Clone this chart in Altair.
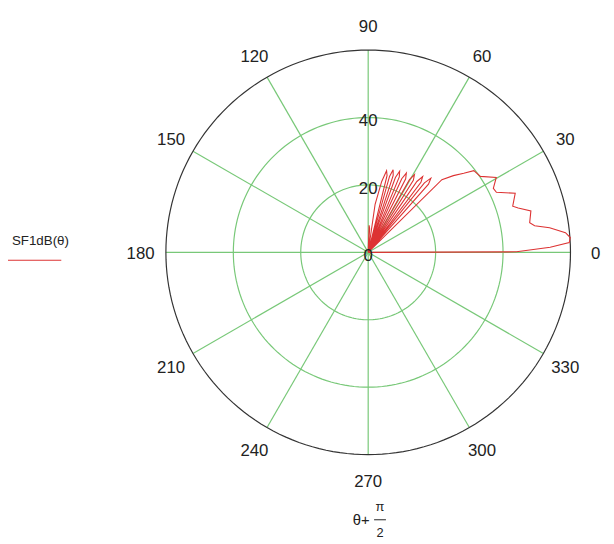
import math
import altair as alt
import pandas as pd

# ---- data (plotted angle θ+π/2 in degrees, SF1dB(θ) in dB)
ANGLE_DEG = [0, 0.2, 1.6, 2.8, 4.2, 5.7, 7.7, 9.1, 10.4, 14.3, 16.5, 17.7, 21.9, 25.1,
             27.1, 30.3, 34.1, 37.7, 39.6, 42.0, 44.6, 45.4,
             48.5, 49.8, 51.0, 51.6,
             53.0, 54.3, 55.5, 56.2,
             57.9, 59.2, 60.4, 61.1,
             63.0, 64.3, 65.5, 66.1,
             67.6, 68.8, 70.0, 70.6,
             72.0, 73.2, 74.3, 74.9,
             76.2, 77.3, 79.2, 81.8, 83.8,
             86.5, 88.0, 90.0]
SF1DB = [0, 44, 54, 59.7, 60.1, 58.8, 54.3, 50, 48.7, 49.8, 46.4, 45, 47, 42,
         41.7, 44, 40.2, 39.6, 36.8, 34, 30.7, 0,
         27.0, 28.8, 26.5, 0,
         26.0, 27.7, 25.5, 0,
         25.2, 26.8, 24.8, 0,
         24.5, 26.1, 24.0, 0,
         24.2, 25.8, 23.6, 0,
         24.0, 25.6, 23.4, 0,
         23.5, 24.8, 21.4, 14.4, 0,
         7, 8, 0]

RINGS = [20, 40]
R_MAX = 60
SPOKES = [0, 30, 60, 90, 120, 150, 180, 210, 240, 270, 300, 330]
ANGLE_LABELS = ["0", "30", "60", "90", "120", "150", "180", "210", "240", "270", "300", "330"]
RADIAL_TICKS = [0, 20, 40]
RADIAL_LABELS = ["0", "20", "40"]
LEGEND_LABEL = "SF1dB(θ)"

# ---- layout (pixels)
W, H = 606, 540
CX, CY = 365, 244
R_PX = 205
K = R_PX / R_MAX
LABEL_R = 67.5
FONT = "Liberation Sans"
GREEN = "#78c878"
RED = "#dd3333"
TXT = "#222222"

xs = alt.Scale(domain=[-CX / K, (W - CX) / K], nice=False, zero=False)
ys = alt.Scale(domain=[-(H - CY) / K, CY / K], nice=False, zero=False)


def X(f):
    return alt.X(f, type="quantitative", scale=xs, axis=None)


def Y(f):
    return alt.Y(f, type="quantitative", scale=ys, axis=None)


# rings (sampled circle geometry)
ring_rows = []
for r in RINGS + [R_MAX]:
    for d in range(0, 361, 2):
        ring_rows.append({"r": r, "deg": d})
ring_df = pd.DataFrame(ring_rows)

ring_base = alt.Chart(ring_df).transform_calculate(
    x="datum.r * cos(datum.deg * PI / 180)",
    y="datum.r * sin(datum.deg * PI / 180)",
)
green_rings = ring_base.transform_filter(f"datum.r < {R_MAX}").mark_line(
    color=GREEN, strokeWidth=1.2
).encode(x=X("x:Q"), y=Y("y:Q"), detail="r:N", order="deg:Q")
outer_ring = ring_base.transform_filter(f"datum.r == {R_MAX}").mark_line(
    color="#333333", strokeWidth=1.2
).encode(x=X("x:Q"), y=Y("y:Q"), order="deg:Q")

# spokes
spoke_df = pd.DataFrame({"a": SPOKES})
spokes = alt.Chart(spoke_df).transform_calculate(
    x0="0", y0="0",
    x1=f"{R_MAX} * cos(datum.a * PI / 180)",
    y1=f"{R_MAX} * sin(datum.a * PI / 180)",
).mark_rule(color=GREEN, strokeWidth=1.2).encode(
    x=X("x0:Q"), y=Y("y0:Q"), x2="x1:Q", y2="y1:Q"
)

# curve
curve_df = pd.DataFrame({"i": range(len(ANGLE_DEG)), "a": ANGLE_DEG, "r": SF1DB})
curve = alt.Chart(curve_df).transform_calculate(
    x="datum.r * cos(datum.a * PI / 180)",
    y="datum.r * sin(datum.a * PI / 180)",
).mark_line(color=RED, strokeWidth=1.1).encode(
    x=X("x:Q"), y=Y("y:Q"), order="i:Q"
)

# angle labels
alab_df = pd.DataFrame({"a": SPOKES, "t": ANGLE_LABELS})
angle_labels = alt.Chart(alab_df).transform_calculate(
    x=f"{LABEL_R} * cos(datum.a * PI / 180)",
    y=f"{LABEL_R} * sin(datum.a * PI / 180)",
).mark_text(font=FONT, fontSize=17, color=TXT, align="center", baseline="middle", dy=2).encode(
    x=X("x:Q"), y=Y("y:Q"), text="t:N"
)

# radial labels
rlab_df = pd.DataFrame({"r": RADIAL_TICKS, "t": RADIAL_LABELS})
radial_labels = alt.Chart(rlab_df).transform_calculate(x="0").mark_text(
    font=FONT, fontSize=17, color=TXT, align="center", baseline="middle", dy=4
).encode(x=X("x:Q"), y=Y("r:Q"), text="t:N")

# legend
legend_text = alt.Chart(pd.DataFrame({"t": [LEGEND_LABEL]})).mark_text(
    font=FONT, fontSize=13.5, color=TXT, align="left", baseline="middle"
).encode(x=alt.value(4), y=alt.value(233), text="t:N")
legend_line = alt.Chart(pd.DataFrame({"t": [LEGEND_LABEL]})).mark_rule(
    color=RED, strokeWidth=1.2
).encode(x=alt.value(0), x2=alt.value(54), y=alt.value(252))

# axis title θ+π/2
one = pd.DataFrame({"t": ["θ+"]})
t1 = alt.Chart(one).mark_text(font=FONT, fontSize=15, color=TXT, align="center",
                              baseline="middle").encode(
    x=alt.value(358), y=alt.value(515), text="t:N")
t2 = alt.Chart(pd.DataFrame({"t": ["π"]})).mark_text(
    font=FONT, fontSize=13, color=TXT, align="center", baseline="middle").encode(
    x=alt.value(377), y=alt.value(502), text="t:N")
t3 = alt.Chart(pd.DataFrame({"t": ["2"]})).mark_text(
    font=FONT, fontSize=13, color=TXT, align="center", baseline="middle").encode(
    x=alt.value(377), y=alt.value(528), text="t:N")
bar = alt.Chart(one).mark_rule(color=TXT, strokeWidth=1).encode(
    x=alt.value(371), x2=alt.value(383), y=alt.value(515))

chart = alt.layer(
    green_rings, spokes, outer_ring, curve, angle_labels, radial_labels,
    legend_text, legend_line, t1, t2, t3, bar
).properties(
    width=W, height=H, padding=0,
    autosize=alt.AutoSizeParams(type="none"),
    background="white",
).configure_view(strokeWidth=0)

chart.save("out.html", embed_options={"renderer": "svg", "actions": False})
